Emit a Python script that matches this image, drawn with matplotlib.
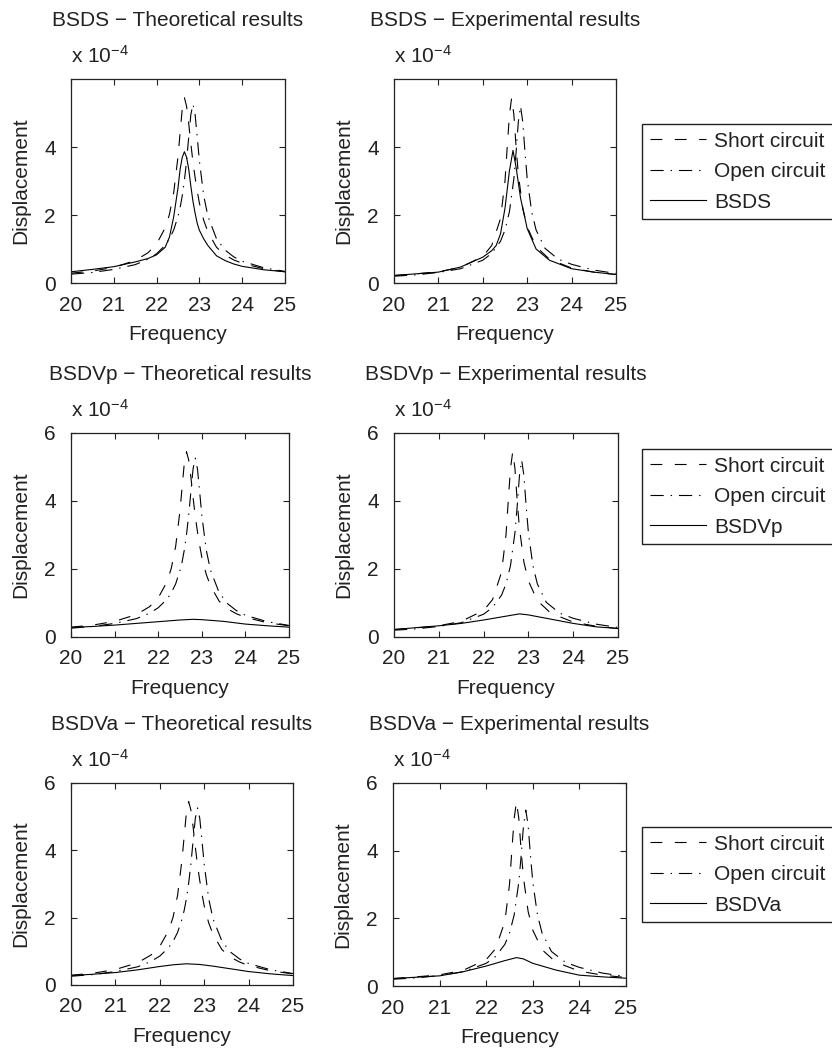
import matplotlib
matplotlib.use('Agg')
import matplotlib.pyplot as plt

plt.rcParams['font.family'] = ['Liberation Sans', 'DejaVu Sans']
plt.rcParams['mathtext.default'] = 'regular'
plt.rcParams['lines.scale_dashes'] = False

# ---- data (displacement in units of 1e-4) ----
xticks = [20, 21, 22, 23, 24, 25]

# theoretical short / open circuit (same in the three left panels)
f_theo = [20, 20.5, 21, 21.5, 21.8, 22, 22.2, 22.3, 22.4, 22.5, 22.55, 22.6, 22.65, 22.7,
          22.75, 22.8, 22.85, 22.9, 22.95, 23, 23.1, 23.2, 23.4, 23.6, 23.8, 24, 24.5, 25]
sc_theo = [0.29, 0.35, 0.46, 0.66, 0.89, 1.15, 1.62, 2.02, 2.66, 3.72, 4.43, 5.13, 5.45, 5.2,
           4.7, 4.1, 3.55, 3.1, 2.7, 2.35, 1.85, 1.5, 1.05, 0.82, 0.68, 0.58, 0.42, 0.33]
oc_theo = [0.26, 0.31, 0.40, 0.54, 0.70, 0.86, 1.11, 1.30, 1.56, 1.96, 2.22, 2.57, 3.02, 3.59,
           4.28, 4.95, 5.26, 4.95, 4.28, 3.59, 2.57, 1.96, 1.30, 0.97, 0.77, 0.64, 0.45, 0.34]
bsds_theo = [0.33, 0.40, 0.48, 0.62, 0.72, 0.83, 1.05, 1.35, 1.95, 2.8, 3.35, 3.7, 3.86, 3.7,
             3.35, 2.85, 2.4, 2.05, 1.75, 1.55, 1.3, 1.1, 0.8, 0.66, 0.56, 0.49, 0.39, 0.33]

f_vp_theo = [20, 20.5, 21, 21.5, 22, 22.5, 22.8, 23, 23.5, 24, 24.5, 25]
bsdvp_theo = [0.28, 0.31, 0.35, 0.40, 0.45, 0.50, 0.52, 0.51, 0.46, 0.38, 0.33, 0.29]

f_va_theo = [20, 20.5, 21, 21.5, 22, 22.3, 22.6, 22.9, 23.2, 23.5, 24, 24.5, 25]
bsdva_theo = [0.28, 0.32, 0.37, 0.45, 0.55, 0.60, 0.63, 0.61, 0.56, 0.50, 0.40, 0.33, 0.28]

# experimental short / open circuit (same in the three right panels)
f_sc_exp = [20, 20.5, 21, 21.5, 22, 22.2, 22.4, 22.5, 22.55, 22.6, 22.65, 22.7, 22.75, 22.8,
            22.9, 23, 23.2, 23.5, 24, 24.5, 25]
sc_exp = [0.22, 0.27, 0.33, 0.46, 0.78, 1.1, 1.9, 3.0, 4.0, 4.95, 5.45, 4.95, 4.0, 3.2,
          2.2, 1.65, 1.07, 0.70, 0.44, 0.32, 0.25]
f_oc_exp = [20, 20.5, 21, 21.5, 22, 22.2, 22.4, 22.5, 22.6, 22.7, 22.75, 22.8, 22.85, 22.9,
            22.95, 23, 23.1, 23.2, 23.4, 23.7, 24, 24.5, 25]
oc_exp = [0.20, 0.24, 0.31, 0.42, 0.67, 0.87, 1.23, 1.56, 2.1, 3.07, 3.85, 4.74, 5.2, 4.74,
          3.85, 3.07, 2.1, 1.56, 1.02, 0.70, 0.55, 0.38, 0.28]

f_bsds_exp = [20, 21, 21.5, 22, 22.2, 22.3, 22.4, 22.5, 22.6, 22.68, 22.75, 22.85, 23, 23.2,
              23.5, 24, 24.5, 25]
bsds_exp = [0.22, 0.32, 0.47, 0.76, 0.95, 1.1, 1.45, 2.2, 3.3, 3.9, 3.4, 2.5, 1.6, 1.0,
            0.67, 0.42, 0.32, 0.25]

f_vp_exp = [20, 21, 21.5, 22, 22.8, 23, 24, 24.5, 25]
bsdvp_exp = [0.22, 0.33, 0.40, 0.50, 0.68, 0.65, 0.40, 0.30, 0.25]

f_va_exp = [20, 21, 21.5, 22, 22.4, 22.65, 22.8, 23, 23.5, 24, 24.5, 25]
bsdva_exp = [0.22, 0.30, 0.42, 0.59, 0.75, 0.84, 0.80, 0.67, 0.47, 0.32, 0.27, 0.23]

titles = [['BSDS \u2212 Theoretical results', 'BSDS \u2212 Experimental results'],
          ['BSDVp \u2212 Theoretical results', 'BSDVp \u2212 Experimental results'],
          ['BSDVa \u2212 Theoretical results', 'BSDVa \u2212 Experimental results']]
solid_names = ['BSDS', 'BSDVp', 'BSDVa']
solid_data = [[(f_theo, bsds_theo), (f_bsds_exp, bsds_exp)],
              [(f_vp_theo, bsdvp_theo), (f_vp_exp, bsdvp_exp)],
              [(f_va_theo, bsdva_theo), (f_va_exp, bsdva_exp)]]
sc_data = [(f_theo, sc_theo), (f_sc_exp, sc_exp)]
oc_data = [(f_theo, oc_theo), (f_oc_exp, oc_exp)]

# ---- layout in pixels (x0, x1, y0, y1) ----
W, H = 832, 1049
boxes = [[(71, 285, 79, 283), (394, 616, 79, 283)],
         [(71, 289, 433, 637), (394, 618, 433, 637)],
         [(71, 293, 783, 985), (393, 626, 783, 986)]]
legend_tops = [124, 449, 827]

DASH = (0, (8.5, 9))
DASHDOT = (0, (9.5, 5, 1, 5))
LW = 0.8

fig = plt.figure(figsize=(W / 100, H / 100), dpi=100)

for r in range(3):
    for c in range(2):
        x0, x1, y0, y1 = boxes[r][c]
        w, h = x1 - x0, y1 - y0
        ax = fig.add_axes([x0 / W, 1 - y1 / H, w / W, h / H])

        l1, = ax.plot(*sc_data[c], color='black', lw=LW, linestyle=DASH, label='Short circuit')
        l2, = ax.plot(*oc_data[c], color='black', lw=LW, linestyle=DASHDOT, label='Open circuit')
        l3, = ax.plot(*solid_data[r][c], color='black', lw=LW, linestyle='-', label=solid_names[r])

        ax.set_xlim(20, 25)
        ax.set_xticks(xticks)
        ax.set_ylim(0, 6)
        if r == 0:
            ax.set_yticks([0, 2, 4])
        else:
            ax.set_yticks([0, 2, 4, 6])
        ax.tick_params(direction='in', length=4, width=0.8, top=True, right=True,
                       labelsize=15, colors='#222222')
        ax.tick_params(axis='x', pad=9)
        ax.tick_params(axis='y', pad=11)
        for s in ax.spines.values():
            s.set_linewidth(0.9)
            s.set_color('#222222')

        ax.set_xlabel('Frequency', fontsize=15, color='#222222')
        ax.xaxis.set_label_coords(0.5, -42 / h)
        ax.set_ylabel('Displacement', fontsize=15, color='#222222')
        ax.yaxis.set_label_coords(-41 / w, 0.5)
        ax.set_title(titles[r][c], fontsize=15, pad=38.5, color='#222222')
        ax.text(0, 1 + 16 / h, 'x 10$^{-4}$', transform=ax.transAxes, fontsize=15,
                va='baseline', ha='left', color='#222222')

        if c == 1:
            leg = fig.legend([l1, l2, l3], ['Short circuit', 'Open circuit', solid_names[r]],
                             loc='upper left', bbox_to_anchor=(642 / W, 1 - legend_tops[r] / H),
                             borderaxespad=0, fancybox=False, framealpha=1, edgecolor='#222222',
                             fontsize=15, handlelength=2.7, handletextpad=0.4,
                             labelspacing=0.55, borderpad=0.37)
            leg.get_frame().set_linewidth(1.0)
            for t in leg.get_texts():
                t.set_color('#222222')

fig.savefig('out.png', dpi=100)
